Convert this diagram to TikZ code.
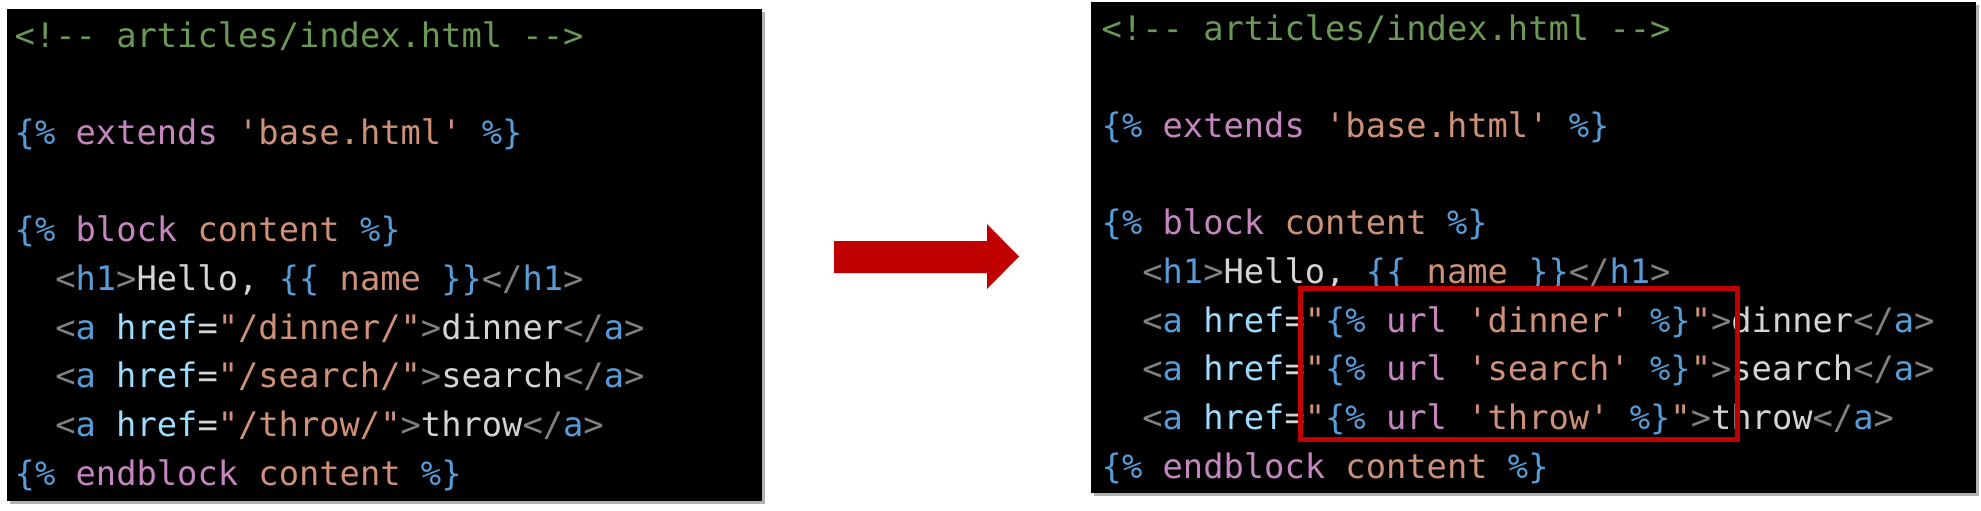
\documentclass[tikz,border=0pt]{standalone}
\usepackage{fontspec}
\setmonofont{DejaVu Sans Mono}
\usetikzlibrary{shadows}

\definecolor{cmtgreen}{HTML}{6A9955}
\definecolor{delimblue}{HTML}{569CD6}
\definecolor{kwpink}{HTML}{C586C0}
\definecolor{strorange}{HTML}{CE9178}
\definecolor{taggray}{HTML}{808080}
\definecolor{attrblue}{HTML}{9CDCFE}
\definecolor{plaintext}{HTML}{D4D4D4}
\definecolor{markred}{HTML}{C00000}

\newcommand{\cmt}[1]{\textcolor{cmtgreen}{#1}}
\newcommand{\dl}[1]{\textcolor{delimblue}{#1}}
\newcommand{\kw}[1]{\textcolor{kwpink}{#1}}
\newcommand{\strg}[1]{\textcolor{strorange}{#1}}
\newcommand{\tg}[1]{\textcolor{taggray}{#1}}
\newcommand{\tn}[1]{\textcolor{delimblue}{#1}}
\newcommand{\attr}[1]{\textcolor{attrblue}{#1}}
\newcommand{\tx}[1]{\textcolor{plaintext}{#1}}

\tikzset{
  panel/.style={fill=black, inner sep=0pt, anchor=south west,
    drop shadow={shadow xshift=0.03cm, shadow yshift=-0.03cm, fill=black!60, opacity=0.5}},
  code/.style={anchor=base west, inner sep=0pt, font=\ttfamily\fontsize{9.6pt}{12pt}\selectfont},
}

\begin{document}
\begin{tikzpicture}
\useasboundingbox (0,0) rectangle (19.81,5.10);

% panels
\node[panel, minimum width=7.55cm, minimum height=4.92cm] (leftpanel) at (0.06,0.08) {};
\node[panel, minimum width=8.85cm, minimum height=4.91cm] (rightpanel) at (10.90,0.16) {};

% left code
\node[code] (l0) at (0.14,4.63) {\cmt{<!-- articles/index.html -->}};
\node[code] (l2) at (0.14,3.656) {\dl{\{\%} \kw{extends} \strg{'base.html'} \dl{\%\}}};
\node[code] (l4) at (0.14,2.682) {\dl{\{\%} \kw{block} \strg{content} \dl{\%\}}};
\node[code] (l5) at (0.546,2.195) {\tg{<}\tn{h1}\tg{>}\tx{Hello,} \dl{\{\{} \strg{name} \dl{\}\}}\tg{</}\tn{h1}\tg{>}};
\node[code] (l6) at (0.546,1.708) {\tg{<}\tn{a} \attr{href}\tx{=}\strg{"/dinner/"}\tg{>}\tx{dinner}\tg{</}\tn{a}\tg{>}};
\node[code] (l7) at (0.546,1.221) {\tg{<}\tn{a} \attr{href}\tx{=}\strg{"/search/"}\tg{>}\tx{search}\tg{</}\tn{a}\tg{>}};
\node[code] (l8) at (0.546,0.734) {\tg{<}\tn{a} \attr{href}\tx{=}\strg{"/throw/"}\tg{>}\tx{throw}\tg{</}\tn{a}\tg{>}};
\node[code] (l9) at (0.14,0.247) {\dl{\{\%} \kw{endblock} \strg{content} \dl{\%\}}};

% arrow
\fill[markred] (8.34,2.37) -- (9.87,2.37) -- (9.87,2.21) -- (10.19,2.535)
  -- (9.87,2.86) -- (9.87,2.69) -- (8.34,2.69) -- cycle;

% right code
\node[code] (r0) at (11.01,4.70) {\cmt{<!-- articles/index.html -->}};
\node[code] (r2) at (11.01,3.726) {\dl{\{\%} \kw{extends} \strg{'base.html'} \dl{\%\}}};
\node[code] (r4) at (11.01,2.752) {\dl{\{\%} \kw{block} \strg{content} \dl{\%\}}};
\node[code] (r5) at (11.416,2.265) {\tg{<}\tn{h1}\tg{>}\tx{Hello,} \dl{\{\{} \strg{name} \dl{\}\}}\tg{</}\tn{h1}\tg{>}};
\node[code] (r6) at (11.416,1.778) {\tg{<}\tn{a} \attr{href}\tx{=}\strg{"}\dl{\{\%} \kw{url} \strg{'dinner'} \dl{\%\}}\strg{"}\tg{>}\tx{dinner}\tg{</}\tn{a}\tg{>}};
\node[code] (r7) at (11.416,1.291) {\tg{<}\tn{a} \attr{href}\tx{=}\strg{"}\dl{\{\%} \kw{url} \strg{'search'} \dl{\%\}}\strg{"}\tg{>}\tx{search}\tg{</}\tn{a}\tg{>}};
\node[code] (r8) at (11.416,0.804) {\tg{<}\tn{a} \attr{href}\tx{=}\strg{"}\dl{\{\%} \kw{url} \strg{'throw'} \dl{\%\}}\strg{"}\tg{>}\tx{throw}\tg{</}\tn{a}\tg{>}};
\node[code] (r9) at (11.01,0.317) {\dl{\{\%} \kw{endblock} \strg{content} \dl{\%\}}};

% highlight
\node[draw=markred, line width=0.05cm, inner sep=0pt, anchor=south west,
  minimum width=4.37cm, minimum height=1.51cm] (urlbox) at (12.98,0.68) {};

\end{tikzpicture}
\end{document}
